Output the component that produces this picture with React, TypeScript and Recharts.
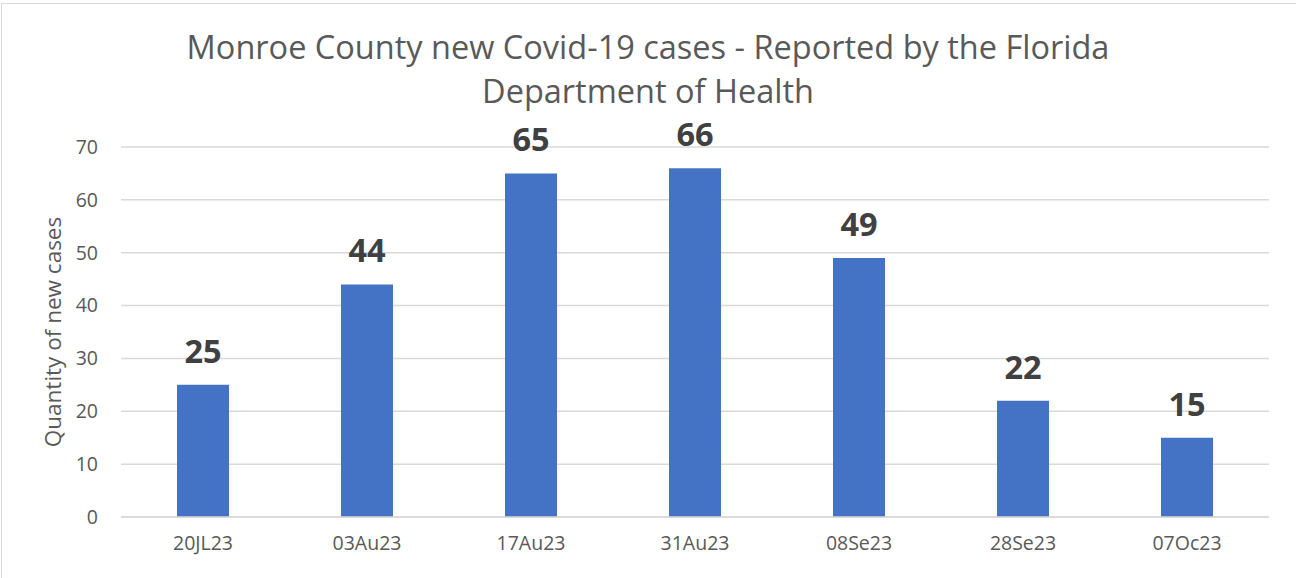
import { BarChart, Bar, XAxis, YAxis, CartesianGrid, LabelList } from "recharts";

const dates = ["20JL23", "03Au23", "17Au23", "31Au23", "08Se23", "28Se23", "07Oc23"];
const newCases = [25, 44, 65, 66, 49, 22, 15];
const yTicks = [0, 10, 20, 30, 40, 50, 60, 70];
const titleLines = ["Monroe County new Covid-19 cases - Reported by the Florida", "Department of Health"];
const yLabel = "Quantity of new cases";

const data = dates.map((date, i) => ({ date, cases: newCases[i] }));

const FONT = "'Open Sans', sans-serif";

export default function App() {
  return (
    <div
      style={{
        position: "absolute",
        left: 0,
        top: 0,
        width: 1296,
        height: 578,
        background: "#fff",
        fontFamily: FONT,
        overflow: "hidden",
      }}
    >
      {/* thin frame, only top + left visible in the source */}
      <div
        style={{
          position: "absolute",
          left: 1,
          top: 3,
          width: 1400,
          height: 700,
          borderTop: "1.5px solid #d9d9d9",
          borderLeft: "1.5px solid #d9d9d9",
        }}
      />
      <div
        style={{
          position: "absolute",
          left: 0,
          top: 25,
          width: 1296,
          textAlign: "center",
          color: "#595959",
          fontSize: 32.5,
          lineHeight: "44px",
        }}
      >
        {titleLines.map((t) => (
          <div key={t}>{t}</div>
        ))}
      </div>
      <div style={{ position: "absolute", left: 0, top: 0 }}>
        <BarChart
          width={1296}
          height={578}
          data={data}
          margin={{ top: 147, right: 27, left: 0, bottom: 31 }}
          barCategoryGap={56}
        >
          <CartesianGrid vertical={false} stroke="#d9d9d9" strokeWidth={1.5} />
          <XAxis
            dataKey="date"
            axisLine={{ stroke: "#d9d9d9", strokeWidth: 1.5 }}
            tickLine={false}
            tickMargin={13}
            tick={{ fill: "#595959", fontSize: 19.5, fontFamily: FONT }}
            interval={0}
          />
          <YAxis
            width={121}
            domain={[0, 70]}
            ticks={yTicks}
            axisLine={false}
            tickLine={false}
            tickMargin={17}
            tick={{ fill: "#595959", fontSize: 19.5, fontFamily: FONT }}
            label={({ viewBox }: any) => {
              const cy = viewBox.y + viewBox.height / 2;
              return (
                <text
                  x={52}
                  y={cy}
                  transform={`rotate(-90 52 ${cy})`}
                  textAnchor="middle"
                  dominantBaseline="central"
                  fill="#595959"
                  fontSize={22.5}
                  fontFamily={FONT}
                >
                  {yLabel}
                </text>
              );
            }}
          />
          <Bar dataKey="cases" fill="#4472c4" isAnimationActive={false}>
            <LabelList
              dataKey="cases"
              position="top"
              offset={22}
              fill="#404040"
              fontSize={32.5}
              fontWeight="bold"
              fontFamily={FONT}
            />
          </Bar>
        </BarChart>
      </div>
    </div>
  );
}
